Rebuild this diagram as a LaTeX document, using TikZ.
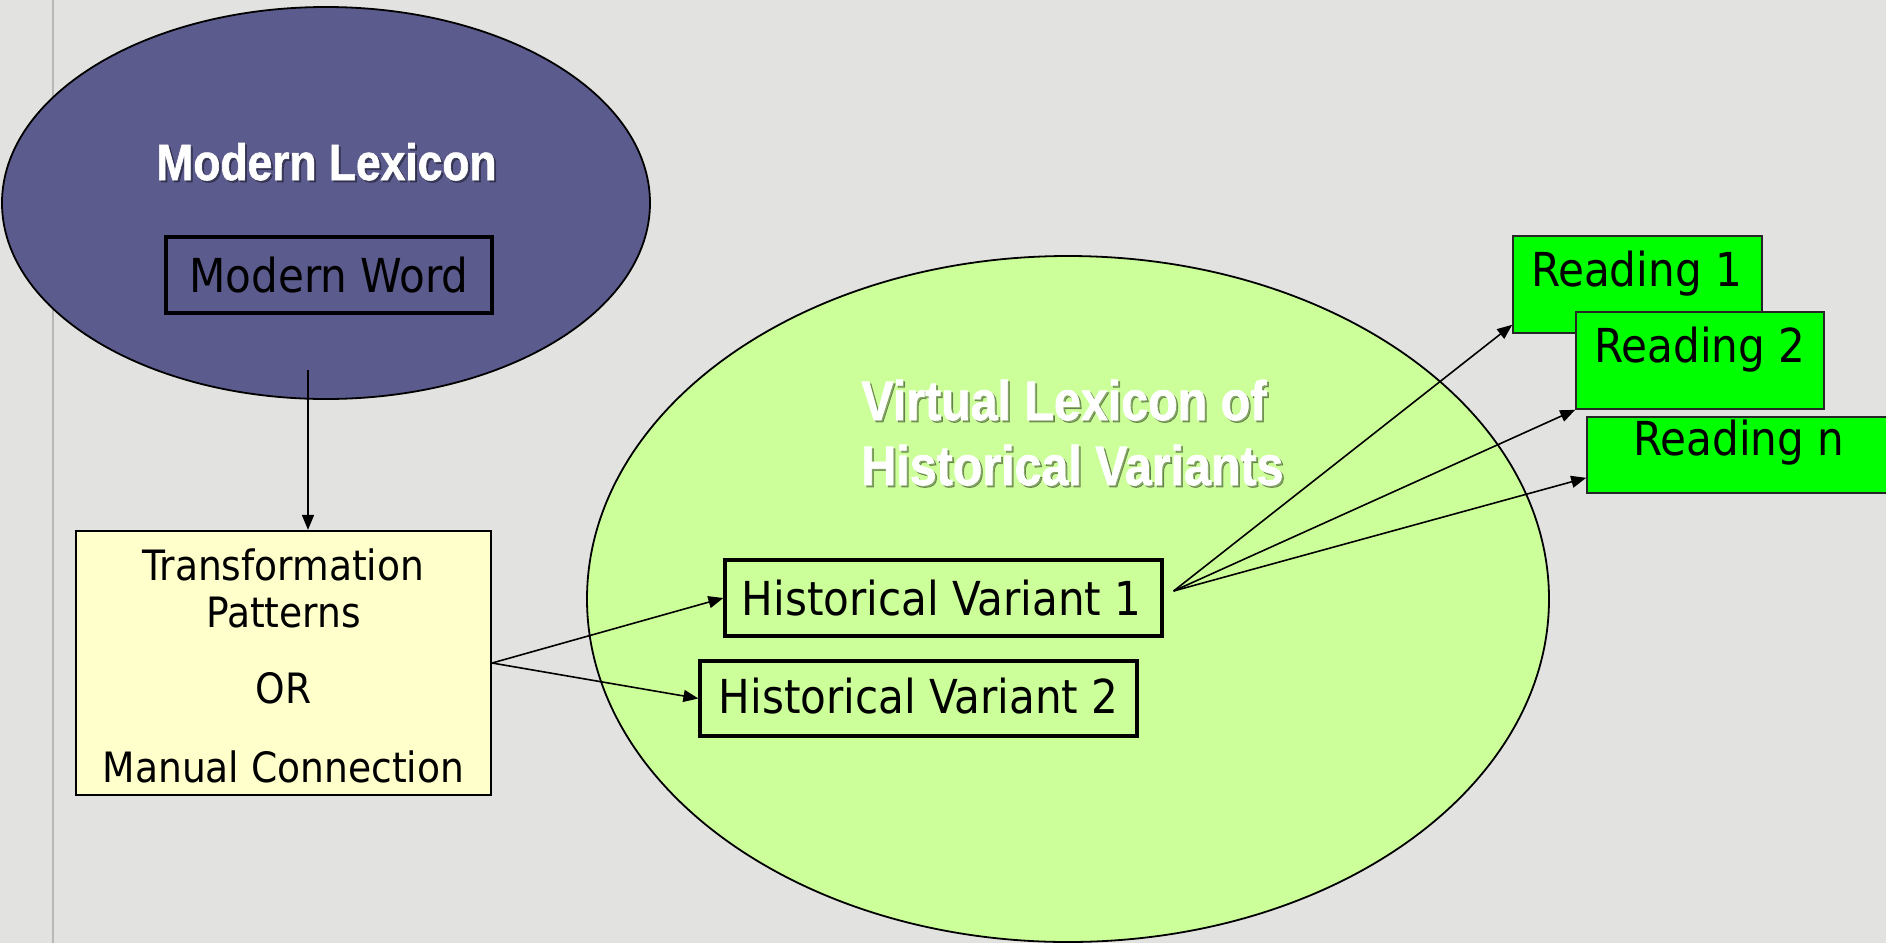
\documentclass[tikz,border=0pt]{standalone}
\usepackage{fontspec}
\usetikzlibrary{shapes.geometric,arrows.meta,fit,calc}
\newfontfamily\boxfont{DejaVu Sans Condensed}
\newfontfamily\titlefont[FakeStretch=0.87,FakeBold=1.2]{Liberation Sans}
\definecolor{canvas}{RGB}{226,226,224}
\definecolor{guide}{RGB}{184,184,184}
\definecolor{lexpurple}{RGB}{92,91,142}
\definecolor{lexgreen}{RGB}{204,255,153}
\definecolor{notepaper}{RGB}{255,255,204}
\definecolor{readgreen}{RGB}{0,255,0}
\begin{document}
\begin{tikzpicture}[x=0.5pt,y=-0.5pt,
  lexicon/.style={ellipse, draw=black, line width=0.9pt, inner sep=0pt},
  wordbox/.style={rectangle, draw=black, line width=1.6pt, inner sep=0pt},
  rulebox/.style={rectangle, draw=black, line width=1.1pt, fill=notepaper, inner sep=0pt},
  readbox/.style={rectangle, draw=black!85, line width=0.8pt, fill=readgreen, inner sep=0pt},
  boxtext/.style={anchor=base, inner sep=0pt, font=\boxfont\fontsize{23.4pt}{28pt}\selectfont},
  ruletext/.style={anchor=base, inner sep=0pt, font=\boxfont\fontsize{20.9pt}{24pt}\selectfont},
  titletext/.style={anchor=base west, inner sep=0pt, text=white},
  titleshade/.style={anchor=base west, inner sep=0pt, text=black, opacity=0.35},
  link/.style={line width=0.8pt, -{Triangle[length=7.5pt,width=6pt]}},
]
\useasboundingbox (0,0) rectangle (1886,943);
\clip (0,0) rectangle (1886,943);
\fill[canvas] (0,0) rectangle (1886,943);
\draw[guide, line width=1pt] (53,0) -- (53,943);

% modern lexicon
\node[lexicon, fill=lexpurple, minimum width=324pt, minimum height=196pt] (modern) at (326,203) {};
\begin{scope}[font=\titlefont\bfseries\fontsize{25.5pt}{30pt}\selectfont]
  \node[titleshade] (modernshade) at (158,182) {Modern Lexicon};
  \node[titletext] (moderntitle) at (156,180) {Modern Lexicon};
\end{scope}
\node[wordbox, fit={(166,237) (492,313)}] (mword) {};
\node[boxtext] (mwordlabel) at (329,292) {Modern Word};

% virtual lexicon
\node[lexicon, fill=lexgreen, minimum width=481pt, minimum height=343pt] (virtual) at (1068,599) {};
\begin{scope}[font=\titlefont\bfseries\fontsize{27.8pt}{32pt}\selectfont]
  \node[titleshade] (virtshadeA) at (863,422) {Virtual Lexicon of};
  \node[titleshade] (virtshadeB) at (863,487) {Historical Variants};
  \node[titletext] (virttitleA) at (861,420) {Virtual Lexicon of};
  \node[titletext] (virttitleB) at (861,485) {Historical Variants};
\end{scope}
\node[wordbox, fit={(725,560) (1162,636)}] (hv1) {};
\node[boxtext] (hv1label) at (941.5,615) {Historical Variant 1};
\node[wordbox, fit={(700,661) (1137,736)}] (hv2) {};
\node[boxtext] (hv2label) at (918.5,713) {Historical Variant 2};

% transformation step
\node[rulebox, fit={(76,531) (491,795)}] (rules) {};
\node[ruletext] (rulesA) at (283.5,580) {Transformation};
\node[ruletext] (rulesB) at (283.5,627) {Patterns};
\node[ruletext] (rulesC) at (283.5,703) {OR};
\node[ruletext] (rulesD) at (283.5,782) {Manual Connection};

% readings
\node[readbox, fit={(1513,236) (1762,333)}] (r1) {};
\node[boxtext] (r1label) at (1636.5,286) {Reading 1};
\node[readbox, fit={(1576,312) (1824,409)}] (r2) {};
\node[boxtext] (r2label) at (1700,362) {Reading 2};
\node[readbox, fit={(1587,417) (1892,493)}] (rn) {};
\node[boxtext] (rnlabel) at (1739,455) {Reading n};

% connectors
\coordinate (mwfoot) at (308,370);
\draw[link] (mwfoot) -- (rules.north -| mwfoot);
\draw[link] (rules.east) -- (hv1.west);
\draw[link] (rules.east) -- (hv2.west);
\coordinate (hvout) at ($(hv1.east)+(10,-7)$);
\draw[link] (hvout) -- ($(r1.south west)+(0,-9)$);
\draw[link] (hvout) -- (r2.south west);
\draw[link] (hvout) -- ($(rn.south west)+(0,-16)$);
\end{tikzpicture}
\end{document}
